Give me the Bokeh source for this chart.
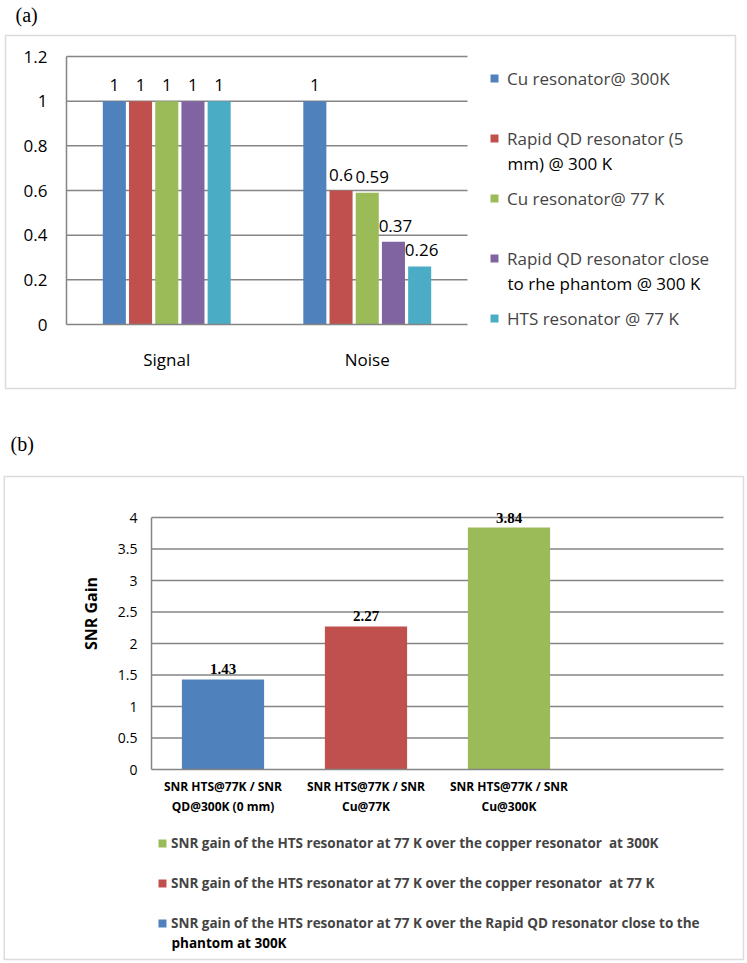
from bokeh.plotting import figure
from bokeh.models import (Range1d, FixedTicker, Legend, LegendItem,
                          Label, BoxAnnotation, ColumnDataSource)
from bokeh.layouts import column
from bokeh.core.properties import value
from bokeh.embed import file_html
from bokeh.resources import INLINE

# ---------------- data: chart (a) ----------------
groups_a = ["Signal", "Noise"]
series_a = ["Cu resonator@ 300K",
            "Rapid QD resonator (5\nmm) @ 300 K",
            "Cu resonator@ 77 K",
            "Rapid QD resonator close\nto rhe phantom  @ 300 K",
            "HTS resonator @ 77 K"]
signal_a = [1, 1, 1, 1, 1]
noise_a = [1, 0.6, 0.59, 0.37, 0.26]
colors_a = ["#4F81BD", "#C0504D", "#9BBB59", "#8064A2", "#4BACC6"]
yticks_a = [0, 0.2, 0.4, 0.6, 0.8, 1, 1.2]
ytick_labels_a = ["0", "0.2", "0.4", "0.6", "0.8", "1", "1.2"]

# ---------------- data: chart (b) ----------------
categories_b = ["SNR HTS@77K / SNR\nQD@300K (0 mm)",
                "SNR HTS@77K / SNR\nCu@77K",
                "SNR HTS@77K / SNR\nCu@300K"]
gain_b = [1.43, 2.27, 3.84]
colors_b = ["#4F81BD", "#C0504D", "#9BBB59"]
legend_b = ["SNR gain of the HTS resonator at 77 K over the Rapid QD resonator close to the\nphantom at 300K",
            "SNR gain of the HTS resonator at 77 K over the copper resonator  at 77 K",
            "SNR gain of the HTS resonator at 77 K over the copper resonator  at 300K"]
yticks_b = [0, 0.5, 1, 1.5, 2, 2.5, 3, 3.5, 4]
ytick_labels_b = ["0", "0.5", "1", "1.5", "2", "2.5", "3", "3.5", "4"]
ylabel_b = "SNR Gain"

# ---------------- layout constants (page pixels, origin top-left) ----------------
GRID = "#858585"
BOX = "#8c8c8c"
FONT = "Open Sans"
W = 745
HA, HB = 412, 549
BOT_A = HA
BOT_B = HA + HB


def make_fig(h, xr, yr):
    p = figure(width=W, height=h, x_range=xr, y_range=yr, output_backend="svg",
               toolbar_location=None, min_border=0)
    p.outline_line_color = None
    p.xgrid.visible = False
    p.ygrid.visible = False
    return p


def style_axes(p, ysize, xsize, ystand, xstand, xbounds, ybounds):
    for ax in (p.xaxis[0], p.yaxis[0]):
        ax.fixed_location = 0
        ax.axis_line_color = GRID
        ax.axis_line_width = 1.5
        ax.major_tick_line_color = None
        ax.minor_tick_line_color = None
        ax.major_tick_out = 0
        ax.major_tick_in = 0
        ax.major_label_text_font = FONT
        ax.major_label_text_color = "#000000"
    p.xaxis.bounds = xbounds
    p.yaxis.bounds = ybounds
    p.yaxis.major_label_text_font_size = ysize
    p.xaxis.major_label_text_font_size = xsize
    p.yaxis.major_label_standoff = ystand
    p.xaxis.major_label_standoff = xstand


def range_for(d0, d1, p0, p1, c0, c1):
    """data d0->pixel p0, d1->pixel p1; canvas spans pixels c0..c1"""
    k = (d1 - d0) / (p1 - p0)
    return Range1d(d0 + (c0 - p0) * k, d0 + (c1 - p0) * k)


def scr_label(p, x, y, text, font=FONT, size="17px", style="normal", angle=0,
              align="left"):
    p.add_layout(Label(x=x, y=y, x_units="screen", y_units="screen", text=text,
                       angle=angle, text_font=font, text_font_size=size,
                       text_font_style=style, text_align=align,
                       text_baseline="middle", text_color="#000000"))


def scr_box(p, left, right, top, bottom):
    p.add_layout(BoxAnnotation(left=left, right=right, top=top, bottom=bottom,
                               left_units="screen", right_units="screen",
                               top_units="screen", bottom_units="screen",
                               fill_color=None, line_color=BOX, line_width=1.5))


# ================= chart (a) =================
ng = len(groups_a)
xr_a = range_for(0, ng, 66, 467, 0, W)
yr_a = range_for(0, max(yticks_a), 324, 56, BOT_A, 0)
pa = make_fig(HA, xr_a, yr_a)
style_axes(pa, "17px", "17px", 19, 23, (0, ng), (0, max(yticks_a)))
pa.yaxis.ticker = FixedTicker(ticks=yticks_a)
pa.yaxis.major_label_overrides = dict(zip(yticks_a, ytick_labels_a))
gx_a = [i + 0.5 for i in range(ng)]
pa.xaxis.ticker = FixedTicker(ticks=gx_a)
pa.xaxis.major_label_overrides = dict(zip(gx_a, groups_a))

pa.segment(x0=0, x1=ng, y0=yticks_a[1:], y1=yticks_a[1:], line_color=GRID, line_width=1.5)

n = len(series_a)
step = 0.1307
label_dx = [0, 0, 5, 2, 2]
items_a = []
for i in range(n):
    off = (i - (n - 1) / 2) * step
    src = ColumnDataSource(dict(x=[g + off for g in gx_a], top=[signal_a[i], noise_a[i]],
                                label=[f"{signal_a[i]:g}", f"{noise_a[i]:g}"],
                                dx=[0, label_dx[i]]))
    r = pa.vbar(x="x", top="top", width=0.115, source=src,
                fill_color=colors_a[i], line_color=None)
    pa.text(x="x", y="top", text="label", source=src, x_offset="dx",
            text_align="center", text_baseline="alphabetic", y_offset=-16,
            text_font=value(FONT), text_font_size=value("17px"), text_color="#000000")
    first = series_a[i].split("\n")[0]
    items_a.append(LegendItem(label=first, renderers=[r]))

# legend (a): one 60px slot per entry, first line at the slot top
LA_X, LA_TOP, LA_LH, LA_SLOT = 489, 65.5, 25, 60
leg_a = Legend(items=items_a,
               location=(LA_X, BOT_A - (LA_TOP + (n - 1) * LA_SLOT + LA_LH)),
               orientation="vertical", padding=0, margin=0,
               spacing=LA_SLOT - LA_LH, label_height=LA_LH,
               glyph_width=10, glyph_height=10, label_standoff=8,
               label_text_font=FONT, label_text_font_size="17px",
               border_line_color=None, background_fill_alpha=0)
pa.add_layout(leg_a, "center")
for i, s in enumerate(series_a):
    for j, line in enumerate(s.split("\n")[1:], start=1):
        scr_label(pa, LA_X + 18, BOT_A - (LA_TOP + i * LA_SLOT + LA_LH / 2 + j * LA_LH), line)

scr_box(pa, 5, 735, BOT_A - 35, BOT_A - 388)
scr_label(pa, 15, BOT_A - 14.5, "(a)", font="Liberation Serif", size="20px")

# ================= chart (b) =================
nslots = len(categories_b) + 1
xr_b = range_for(0, nslots, 151, 723, 0, W)
yr_b = range_for(0, max(yticks_b), 769, 517, BOT_B, HA)
pb = make_fig(HB, xr_b, yr_b)
style_axes(pb, "14px", "12px", 14, 8, (0, nslots), (0, max(yticks_b)))
pb.xaxis.major_label_text_font_style = "bold"
pb.yaxis.ticker = FixedTicker(ticks=yticks_b)
pb.yaxis.major_label_overrides = dict(zip(yticks_b, ytick_labels_b))
cx_b = [i + 0.5 for i in range(len(categories_b))]
pb.xaxis.ticker = FixedTicker(ticks=cx_b)
pb.xaxis.major_label_overrides = dict(zip(cx_b, categories_b))

pb.segment(x0=0, x1=nslots, y0=yticks_b[1:], y1=yticks_b[1:], line_color=GRID, line_width=1.5)

src_b = ColumnDataSource(dict(x=cx_b, top=gain_b, color=colors_b,
                              label=[f"{v:.2f}" for v in gain_b]))
rb = pb.vbar(x="x", top="top", width=0.575, source=src_b, fill_color="color",
             line_color=None)
pb.text(x="x", y="top", text="label", source=src_b, text_align="center",
        text_baseline="alphabetic", y_offset=-10, text_font=value("Liberation Serif"),
        text_font_style="bold", text_font_size=value("15px"), text_color="#000000")

# legend (b): order green, red, blue; 40px slots, first line at the slot top
order_b = list(reversed(range(len(legend_b))))
items_b = [LegendItem(label=legend_b[i].split("\n")[0], renderers=[rb], index=i)
           for i in order_b]
LB_X, LB_TOP, LB_LH, LB_SLOT = 157, 833, 20, 40
nb = len(order_b)
leg_b = Legend(items=items_b,
               location=(LB_X, BOT_B - (LB_TOP + (nb - 1) * LB_SLOT + LB_LH)),
               orientation="vertical", padding=0, margin=0,
               spacing=LB_SLOT - LB_LH, label_height=LB_LH,
               glyph_width=10, glyph_height=10, label_standoff=4,
               label_text_font=FONT, label_text_font_size="13.5px",
               label_text_font_style="bold",
               border_line_color=None, background_fill_alpha=0)
pb.add_layout(leg_b, "center")
for k, i in enumerate(order_b):
    for j, line in enumerate(legend_b[i].split("\n")[1:], start=1):
        scr_label(pb, LB_X + 14, BOT_B - (LB_TOP + k * LB_SLOT + LB_LH / 2 + j * 19.5), line,
                  size="13.5px", style="bold")

scr_label(pb, 90, BOT_B - 613, ylabel_b, size="16px", style="bold", angle=1.5707963,
          align="center")
scr_box(pb, 3.75, 743, BOT_B - 476, BOT_B - 959)
scr_label(pb, 10, BOT_B - 443, "(b)", font="Liberation Serif", size="20px")

layout = column(pa, pb)
open("out.html", "w").write(file_html(layout, INLINE))
